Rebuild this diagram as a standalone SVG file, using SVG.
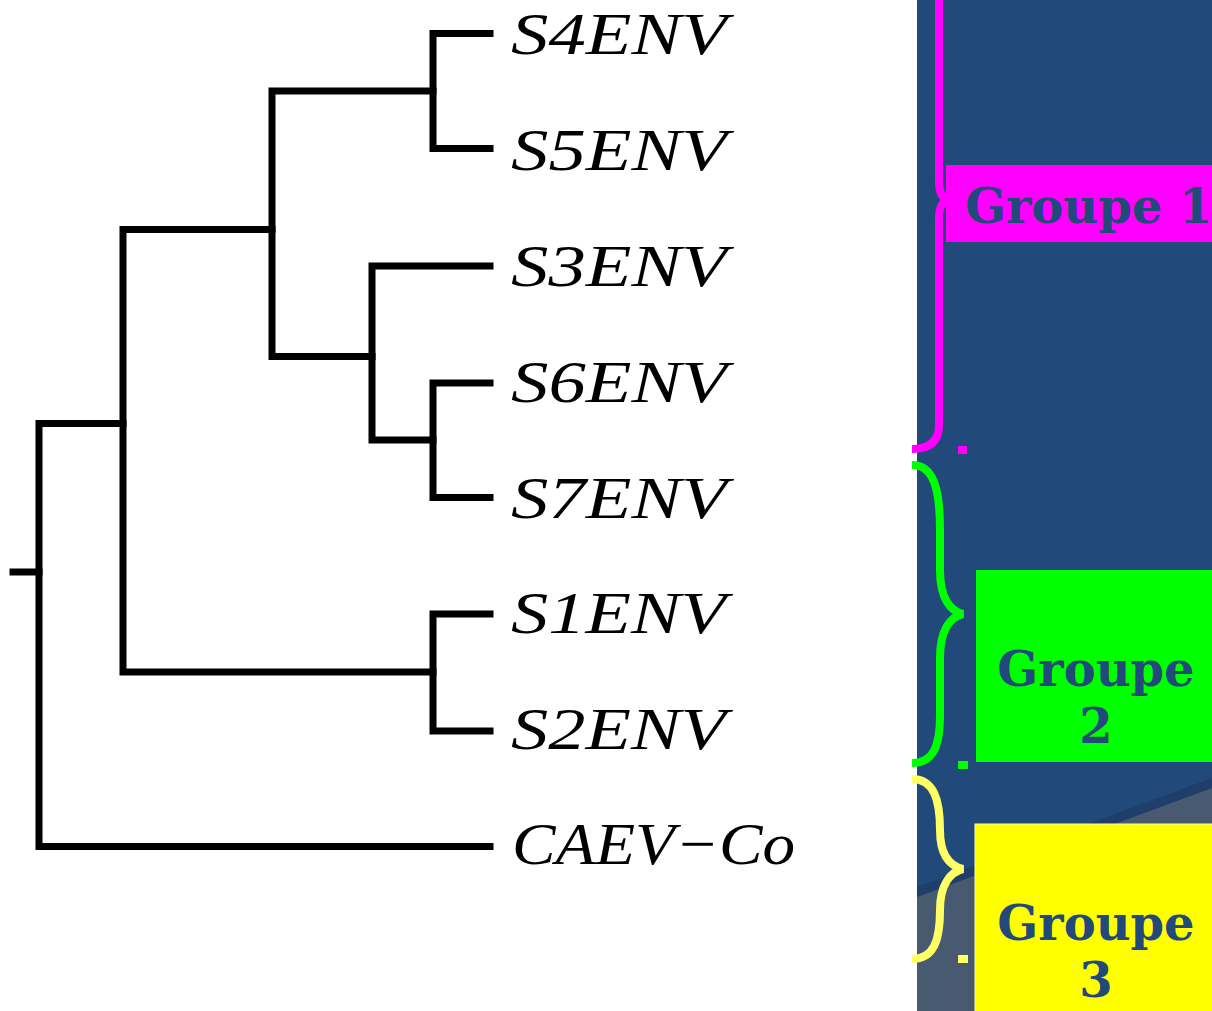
<svg xmlns="http://www.w3.org/2000/svg" width="1212" height="1011" viewBox="0 0 1212 1011">
<style>
.br{fill:none;stroke:#000;stroke-width:7;stroke-linecap:square;stroke-linejoin:miter}
.lbl{font-family:"Liberation Serif","Times New Roman",serif;font-style:italic;font-size:60px;fill:#000}
.brace{fill:none;stroke-width:8;stroke-linecap:butt}
.grp{font-family:"DejaVu Serif","Liberation Serif",serif;font-weight:bold;font-size:48px;fill:#214a7a}
</style>
<rect x="0" y="0" width="1212" height="1011" fill="#ffffff"/>
<g id="panel">
<rect x="917" y="0" width="295" height="1011" fill="#214a7a"/>
<polygon points="917,887 1212,778 1212,1011 917,1011" fill="#1f3f6a"/>
<polygon points="917,897 1212,788 1212,1011 917,1011" fill="#475a70"/>
</g>
<g id="connectors">
<path class="br" d="M13,572 H39"/>
<path class="br" d="M39,423.5 V846.5 M39,423.5 H123 M39,846.5 H490"/>
<path class="br" d="M123,229.5 V672 M123,229.5 H272 M123,672 H433"/>
<path class="br" d="M272,91 V356.5 M272,91 H433 M272,356.5 H372"/>
<path class="br" d="M433,33.5 V148.5 M433,33.5 H490 M433,148.5 H490"/>
<path class="br" d="M372,266 V440 M372,266 H490 M372,440 H433"/>
<path class="br" d="M433,383 V497.5 M433,383 H490 M433,497.5 H490"/>
<path class="br" d="M433,614 V731 M433,614 H490 M433,731 H490"/>
</g>
<g id="leaf-S4ENV"><text class="lbl" x="511" y="54" textLength="216" lengthAdjust="spacingAndGlyphs">S4ENV</text></g>
<g id="leaf-S5ENV"><text class="lbl" x="511" y="170" textLength="216" lengthAdjust="spacingAndGlyphs">S5ENV</text></g>
<g id="leaf-S3ENV"><text class="lbl" x="511" y="286" textLength="216" lengthAdjust="spacingAndGlyphs">S3ENV</text></g>
<g id="leaf-S6ENV"><text class="lbl" x="511" y="402" textLength="216" lengthAdjust="spacingAndGlyphs">S6ENV</text></g>
<g id="leaf-S7ENV"><text class="lbl" x="511" y="518" textLength="216" lengthAdjust="spacingAndGlyphs">S7ENV</text></g>
<g id="leaf-S1ENV"><text class="lbl" x="511" y="633" textLength="215" lengthAdjust="spacingAndGlyphs">S1ENV</text></g>
<g id="leaf-S2ENV"><text class="lbl" x="511" y="749" textLength="215" lengthAdjust="spacingAndGlyphs">S2ENV</text></g>
<g id="leaf-CAEV"><text class="lbl" x="512" y="864" textLength="283" lengthAdjust="spacingAndGlyphs">CAEV−Co</text></g>
<g id="groupe1">
<path class="brace" stroke="#ff00ff" d="M912,449 Q939,449 939,425 V218 Q939,204 947,200 Q939,196 939,182 V-5"/>
<rect x="958" y="446" width="9" height="8" fill="#ff00ff"/>
<rect x="946" y="165" width="270" height="77" fill="#ff00ff"/>
<text class="grp" x="965" y="223">Groupe 1</text>
</g>
<g id="groupe2">
<path class="brace" stroke="#00ff00" d="M912,465 C934,465 940,490 940,530 V570 C940,598 950,611 963,614 C950,617 940,630 940,658 V715 C940,745 934,763 912,763"/>
<rect x="958" y="761" width="10" height="8" fill="#00ff00"/>
<rect x="976" y="570" width="240" height="192" fill="#00ff00"/>
<text class="grp" text-anchor="middle" x="1096" y="686">Groupe</text>
<text class="grp" text-anchor="middle" x="1096" y="743">2</text>
</g>
<g id="groupe3">
<path class="brace" stroke="#ffff66" d="M912,779 C934,779 940,800 940,830 C940,855 950,866 963,869 C950,872 940,885 940,910 C940,940 934,959 912,959"/>
<rect x="958" y="955" width="10" height="8" fill="#ffff66"/>
<rect x="975" y="824" width="240" height="190" fill="#ffff00" stroke="#ffff99" stroke-width="1"/>
<text class="grp" text-anchor="middle" x="1096" y="940">Groupe</text>
<text class="grp" text-anchor="middle" x="1096" y="997">3</text>
</g>
</svg>
